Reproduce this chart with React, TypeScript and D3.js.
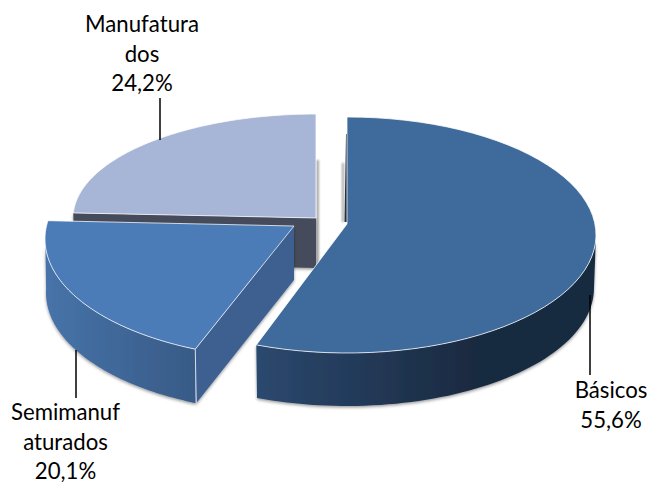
import React from "react";
import * as d3 from "d3";

const categories = ["Básicos", "Semimanufaturados", "Manufaturados"];
const shares = [55.6, 20.1, 24.2];
const labelLines = [["Básicos", "55,6%"], ["Semimanuf", "aturados", "20,1%"], ["Manufatura", "dos", "24,2%"]];
const labelBaseline = [[611, 398], [65.5, 420], [142, 32]];
const leaders = [[590, 295, 375], [76, 350, 398], [160, 98, 140]];
const geometry = [
  { cx: 347, cy: 235, rx: 249, ry: 118, ax: 347, ay: 224, depth: 53, bottomRx: 247, da0: 0, da1: 1 },
  { cx: 294, cy: 239, rx: 249, ry: 120, ax: 294, ay: 226, depth: 54, bottomRx: 248, da0: 3, da1: 6 },
  { cx: 316, cy: 218, rx: 243, ry: 104, ax: 316, ay: 218, depth: 50, bottomRx: 243, da0: 0, da1: 0 },
];
const topColours = ["#3f6a9c", "#4b7cb8", "#a7b6d6"];

const slices = d3.pie<number>().value((d) => d).sort(null)(shares);
const deg = 180 / Math.PI;
const line = d3.line();

type G = (typeof geometry)[number];
const pt = (g: G, a: number, bottom = false): [number, number] => {
  const r = (a * Math.PI) / 180;
  const rx = bottom ? g.bottomRx : g.rx;
  return [g.cx + rx * Math.sin(r), g.cy + (bottom ? g.depth : 0) - g.ry * Math.cos(r)];
};
const arcPts = (g: G, a0: number, a1: number, bottom = false) =>
  d3.range(0, 61).map((i) => pt(g, a0 + ((a1 - a0) * i) / 60, bottom));
const angles = slices.map((s, i) => [s.startAngle * deg + geometry[i].da0, s.endAngle * deg + geometry[i].da1]);

const topPath = (i: number) => {
  const g = geometry[i];
  return line([[g.ax, g.ay], ...arcPts(g, angles[i][0], angles[i][1])])! + "Z";
};
const sidePath = (i: number, a0: number, a1: number) => {
  const g = geometry[i];
  return line([...arcPts(g, a0, a1), ...arcPts(g, a1, a0, true)])! + "Z";
};
const wallPath = (i: number, a: number) => {
  const g = geometry[i];
  const p = pt(g, a);
  return line([[g.ax, g.ay], p, [p[0] + 1, p[1] + g.depth], [g.ax, g.ay + g.depth]])! + "Z";
};

const edge = { stroke: "#fff", strokeOpacity: 0.75, strokeWidth: 1 };

export default function App() {
  const [b, s, m] = geometry;
  const frontCorner = pt(s, angles[1][0]);
  return (
    <svg width={651} height={483} style={{ position: "absolute", left: 0, top: 0, background: "#fff" }}>
      <defs>
        <filter id="sh" x="-10%" y="-10%" width="120%" height="125%">
          <feDropShadow dx={0} dy={1.5} stdDeviation={1.6} floodColor="#000" floodOpacity={0.4} />
        </filter>
        <filter id="soft" x="-100%" y="-10%" width="300%" height="120%">
          <feGaussianBlur stdDeviation={0.8} />
        </filter>
        <linearGradient id="gb" gradientUnits="userSpaceOnUse" x1={258} x2={480} y1={0} y2={0}>
          <stop offset="0" stopColor="#2b486e" />
          <stop offset="1" stopColor="#19293f" />
        </linearGradient>
        <linearGradient id="gs" gradientUnits="userSpaceOnUse" x1={48} x2={198} y1={0} y2={0}>
          <stop offset="0" stopColor="#4673a8" />
          <stop offset="1" stopColor="#385a86" />
        </linearGradient>
      </defs>

      {/* Manufaturados */}
      <path d={line([[m.ax, m.ay - 58], [m.ax + 3, m.ay - 58], [m.ax + 3, m.ay + m.depth - 3], [m.ax, m.ay + m.depth - 3]])!} fill="#a8a8a8" filter="url(#soft)" />
      <g filter="url(#sh)">
        <path d={wallPath(2, angles[2][0])} fill="#444b5a" />
      </g>
      <path d={topPath(2)} fill={topColours[2]} {...edge} />

      {/* Básicos */}
      <path d={line([[b.ax - 5, b.ay - 61], [b.ax - 3, b.ay - 61], [b.ax - 3, b.ay - 2], [b.ax - 5, b.ay - 2]])!} fill="#a0a0a0" filter="url(#soft)" />
      <path d={line([[b.ax - 1, b.ay - 90], [b.ax, b.ay - 90], [b.ax, b.ay - 2], [b.ax - 2.5, b.ay - 2]])!} fill="#27313f" />
      <g filter="url(#sh)">
        <path d={sidePath(0, 92, angles[0][1])} fill="url(#gb)" />
      </g>
      <path d={topPath(0)} fill={topColours[0]} {...edge} />

      {/* Semimanufaturados */}
      <g filter="url(#sh)">
        <path d={sidePath(1, angles[1][0], 272)} fill="url(#gs)" />
        <path d={wallPath(1, angles[1][0])} fill="#3c6190" />
      </g>
      <path d={line([frontCorner, [frontCorner[0] + 1, frontCorner[1] + s.depth]])!} {...edge} />
      <path d={topPath(1)} fill={topColours[1]} {...edge} />

      {leaders.map(([x, y0, y1], i) => (
        <line key={categories[i]} x1={x} x2={x} y1={y0} y2={y1} stroke="#000" strokeWidth={1.5} />
      ))}
      {labelLines.map((ls, i) => (
        <text key={categories[i]} textAnchor="middle" fontFamily="Lato" fontSize={22.2} fill="#000">
          {ls.map((t, j) => (
            <tspan key={j} x={labelBaseline[i][0]} y={labelBaseline[i][1] + j * 29.5}>{t}</tspan>
          ))}
        </text>
      ))}
    </svg>
  );
}
